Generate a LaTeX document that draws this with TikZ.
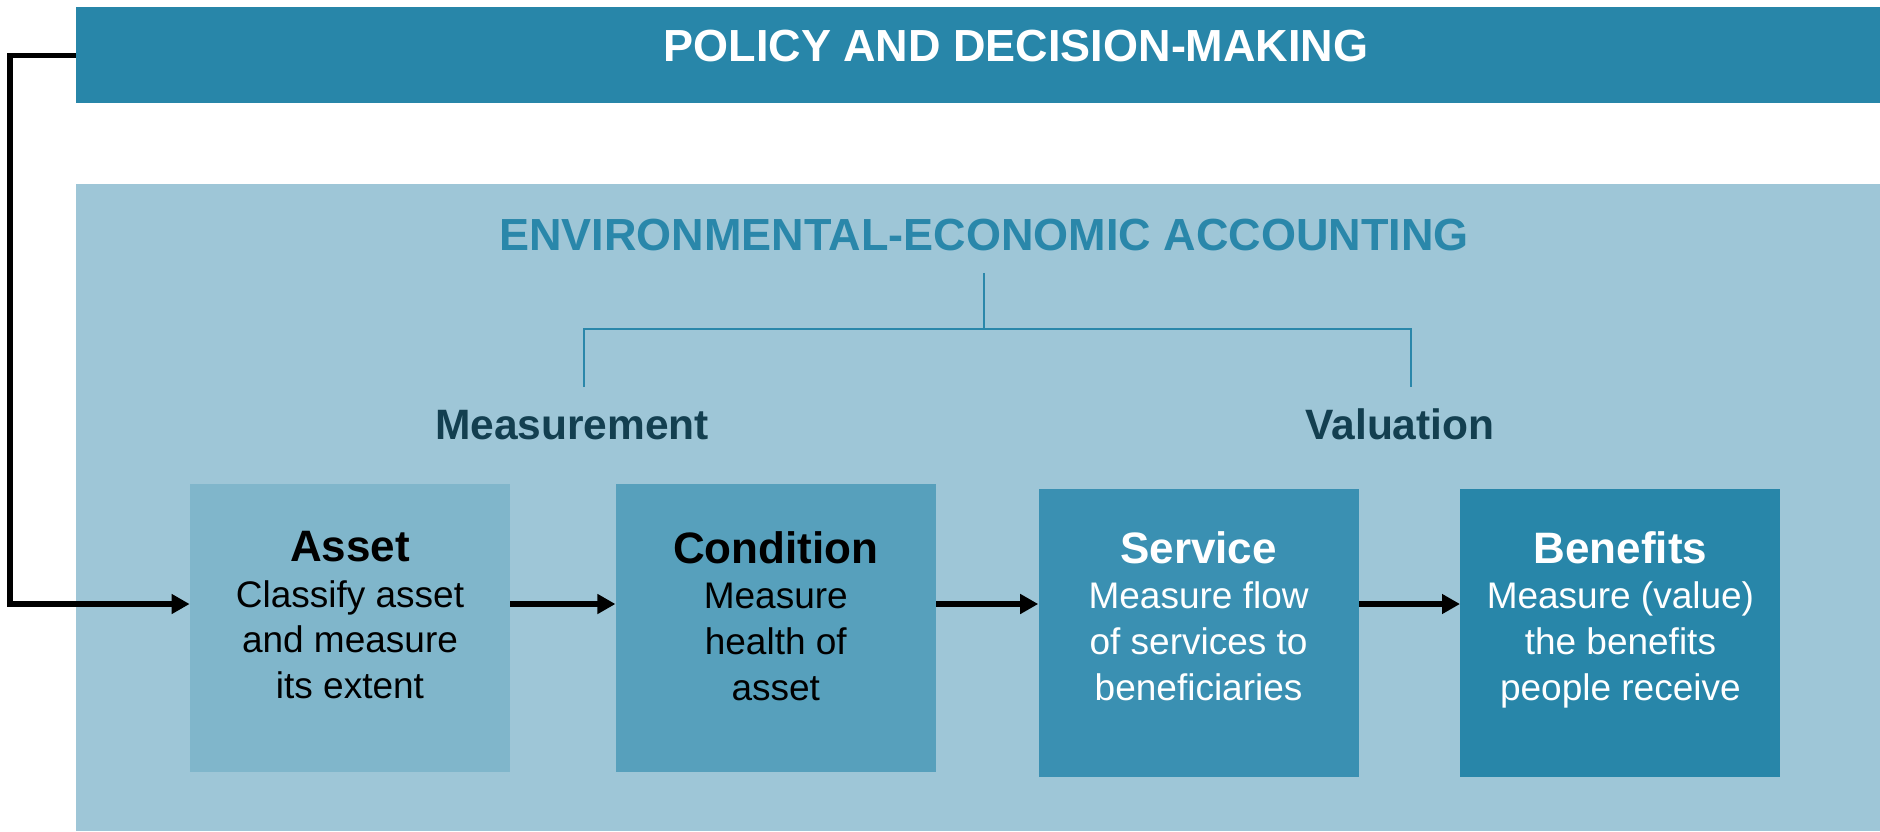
\documentclass[tikz,border=0pt]{standalone}
\usepackage{fontspec}
\setmainfont{Liberation Sans}
\usetikzlibrary{positioning,arrows.meta,calc}

\definecolor{policyblue}{HTML}{2886A9}
\definecolor{panelblue}{HTML}{9EC6D7}
\definecolor{assetblue}{HTML}{80B6CB}
\definecolor{conditionblue}{HTML}{57A0BC}
\definecolor{serviceblue}{HTML}{3A90B2}
\definecolor{benefitsblue}{HTML}{2886A9}
\definecolor{headblue}{HTML}{2A87AA}
\definecolor{darkteal}{HTML}{133F50}

\newcommand\boxhead[1]{{\bfseries\fontsize{22}{22.8}\selectfont #1}}

\begin{document}
\begin{tikzpicture}[
    x=0.5pt, y=-0.5pt,
    band/.style={rectangle, anchor=north west, inner sep=0pt,
                 minimum width=902pt},
    box/.style={rectangle, inner sep=0pt,
                minimum width=160pt, minimum height=144pt},
    boxtext/.style={align=center, inner sep=0pt,
                    font=\fontsize{18.5}{22.8}\selectfont},
    head/.style={font=\bfseries\fontsize{22.5}{27}\selectfont,
                 inner sep=0pt, anchor=base},
    side/.style={font=\bfseries\fontsize{21.25}{25}\selectfont,
                 text=darkteal, inner sep=0pt, anchor=base},
    bracket/.style={draw=headblue, line width=0.75pt},
    arrowflow/.style={draw=black, line width=3.4pt,
                      -{Triangle[length=9pt,width=9.5pt]}}]
    \useasboundingbox (0,0) rectangle (1880,831);
    \fill[white] (0,0) rectangle (1880,831);

    % top band and the framework panel
    \node[band, fill=policyblue, minimum height=48pt] (policy) at (76,7) {};
    \node[head, text=white] (policytext) at (1016,61) {POLICY AND DECISION-MAKING};
    \node[band, fill=panelblue, minimum height=323.5pt] (panel) at (76,184) {};

    \node[head, text=headblue] (eea) at (984,250) {ENVIRONMENTAL-ECONOMIC ACCOUNTING};
    \node[side] (meas) at (572,439) {Measurement};
    \node[side] (val) at (1400,439) {Valuation};

    \coordinate (fork) at (984,329);
    \coordinate (measleg) at (584,387);
    \coordinate (valleg) at (1411,387);
    \draw[bracket] ([yshift=-11pt]eea.south) -- (fork);
    \draw[bracket] (measleg) |- (fork) -| (valleg);

    % the four steps
    \node[box, fill=assetblue] (asset) at (350,628) {};
    \node[box, fill=conditionblue] (condition) [right=52.5pt of asset] {};
    \node[box, fill=serviceblue] (service) [right=51pt of condition, yshift=-2.5pt] {};
    \node[box, fill=benefitsblue] (benefits) [right=50.5pt of service] {};

    \node[boxtext, anchor=north] (assettext) [below=23.75pt of asset.north]
      {\boxhead{Asset}\\Classify asset\\and measure\\its extent};
    \node[boxtext, anchor=north] (conditiontext) [below=23.75pt of condition.north]
      {\boxhead{Condition}\\Measure\\health of\\asset};
    \node[boxtext, anchor=north, text=white] (servicetext) [below=21.25pt of service.north]
      {\boxhead{Service}\\Measure flow\\of services to\\beneficiaries};
    \node[boxtext, anchor=north, text=white] (benefitstext) [below=21.25pt of benefits.north]
      {\boxhead{Benefits}\\Measure (value)\\the benefits\\people receive};

    % flow and feedback
    \coordinate (flowline) at (0,604);
    \coordinate (loop) at (10,604);
    \draw[arrowflow] (asset.east |- flowline) -- (condition.west |- flowline);
    \draw[arrowflow] (condition.east |- flowline) -- (service.west |- flowline);
    \draw[arrowflow] (service.east |- flowline) -- (benefits.west |- flowline);
    \draw[arrowflow, line width=2.9pt] (policy.west) -| (loop) -- (asset.west |- flowline);
\end{tikzpicture}
\end{document}
